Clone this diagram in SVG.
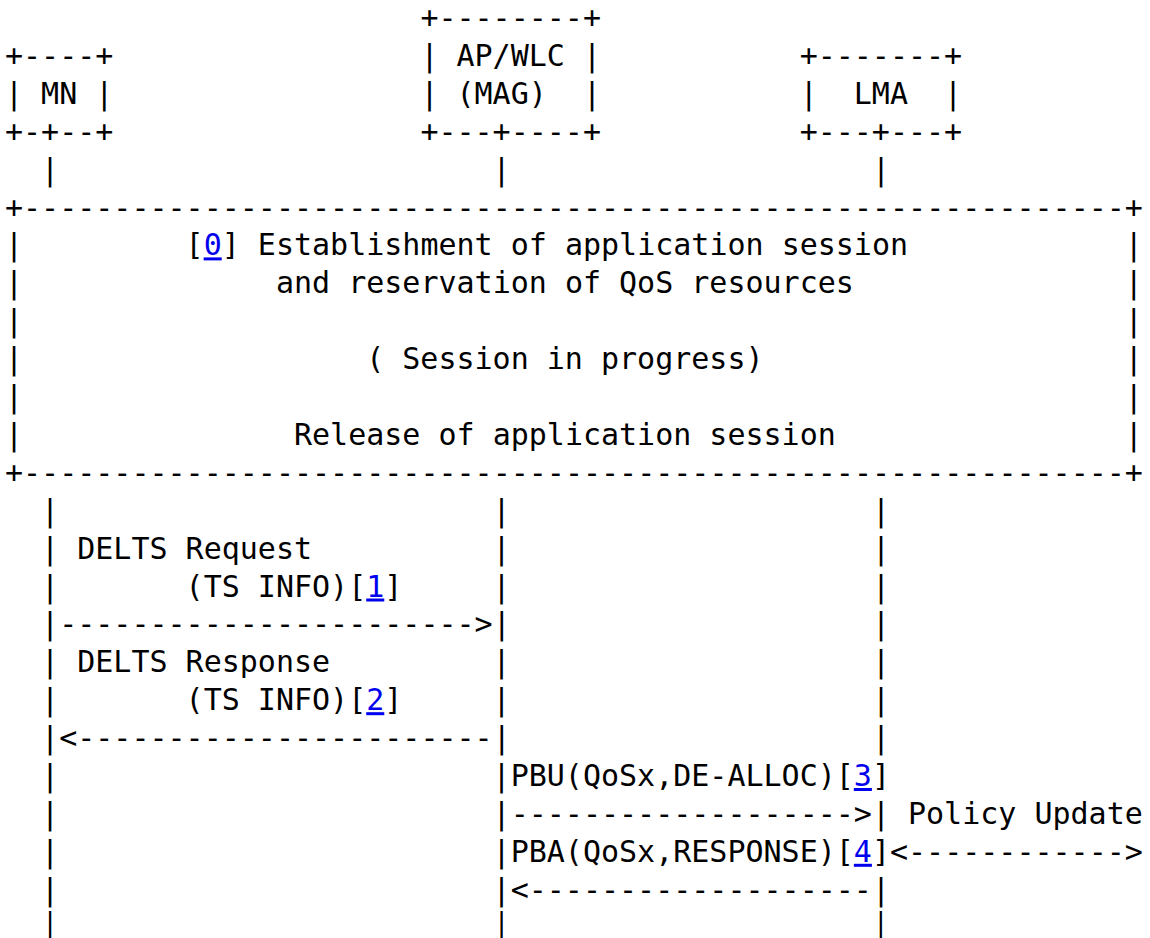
<svg xmlns="http://www.w3.org/2000/svg" width="1150" height="938" viewBox="0 0 1150 938">
  <style>
    text { font-family: "DejaVu Sans Mono", "Liberation Mono", monospace; font-size: 30px; fill: #000; white-space: pre; }
    .ref { fill: #0000ee; text-decoration: underline; }
    .tail { font-size: 26px; }
  </style>
  <rect width="1150" height="938" fill="#fff"/>
  <!-- character grid: column c at x = 5 + 18.06*c, row r baseline at y = 28 + 37.9*r -->

  <g id="mn">
    <text x="5" y="65.9">+----+</text>
    <text x="5" y="103.8">| MN |</text>
    <text x="5" y="141.7">+-+--+</text>
  </g>

  <g id="mag">
    <text x="420.38" y="28">+--------+</text>
    <text x="420.38" y="65.9">| AP/WLC |</text>
    <text x="420.38" y="103.8">| (MAG)  |</text>
    <text x="420.38" y="141.7">+---+----+</text>
  </g>

  <g id="lma">
    <text x="799.64" y="65.9">+-------+</text>
    <text x="799.64" y="103.8">|  LMA  |</text>
    <text x="799.64" y="141.7">+---+---+</text>
  </g>

  <g id="session">
    <text x="5" y="217.5">+-------------------------------------------------------------+</text>
    <text x="5" y="255.4">|</text><text x="1124.72" y="255.4">|</text>
    <text x="5" y="293.3">|</text><text x="1124.72" y="293.3">|</text>
    <text x="5" y="331.2">|</text><text x="1124.72" y="331.2">|</text>
    <text x="5" y="369.1">|</text><text x="1124.72" y="369.1">|</text>
    <text x="5" y="407">|</text><text x="1124.72" y="407">|</text>
    <text x="5" y="444.9">|</text><text x="1124.72" y="444.9">|</text>
    <text x="5" y="482.8">+-------------------------------------------------------------+</text>
    <text x="185.6" y="255.4">[<tspan class="ref">0</tspan>] Establishment of application session</text>
    <text x="275.9" y="293.3">and reservation of QoS resources</text>
    <text x="366.2" y="369.1">( Session in progress)</text>
    <text x="293.96" y="444.9">Release of application session</text>
  </g>

  <g id="connectors">
    <!-- lifelines between the nodes and the session box -->
    <text x="41.12" y="179.6">|</text><text x="492.62" y="179.6">|</text><text x="871.88" y="179.6">|</text>
    <text x="41.12" y="520.7">|</text><text x="492.62" y="520.7">|</text><text x="871.88" y="520.7">|</text>

    <!-- DELTS Request -->
    <text x="41.12" y="558.6">|</text><text x="77.24" y="558.6">DELTS Request</text><text x="492.62" y="558.6">|</text><text x="871.88" y="558.6">|</text>
    <text x="41.12" y="596.5">|</text><text x="185.6" y="596.5">(TS INFO)[<tspan class="ref">1</tspan>]</text><text x="492.62" y="596.5">|</text><text x="871.88" y="596.5">|</text>
    <text x="41.12" y="634.4">|-----------------------&gt;|</text><text x="871.88" y="634.4">|</text>

    <!-- DELTS Response -->
    <text x="41.12" y="672.3">|</text><text x="77.24" y="672.3">DELTS Response</text><text x="492.62" y="672.3">|</text><text x="871.88" y="672.3">|</text>
    <text x="41.12" y="710.2">|</text><text x="185.6" y="710.2">(TS INFO)[<tspan class="ref">2</tspan>]</text><text x="492.62" y="710.2">|</text><text x="871.88" y="710.2">|</text>
    <text x="41.12" y="748.1">|&lt;-----------------------|</text><text x="871.88" y="748.1">|</text>

    <!-- PBU / PBA exchange and policy update -->
    <text x="41.12" y="786">|</text><text x="492.62" y="786">|PBU(QoSx,DE-ALLOC)[<tspan class="ref">3</tspan>]</text>
    <text x="41.12" y="823.9">|</text><text x="492.62" y="823.9">|-------------------&gt;|</text><text x="908" y="823.9">Policy Update</text>
    <text x="41.12" y="861.8">|</text><text x="492.62" y="861.8">|PBA(QoSx,RESPONSE)[<tspan class="ref">4</tspan>]&lt;------------&gt;</text>
    <text x="41.12" y="899.7">|</text><text x="492.62" y="899.7">|&lt;-------------------|</text>
    <!-- last lifeline row: slightly smaller glyph so it ends at the bottom edge -->
    <text class="tail" x="42.32" y="931">|</text><text class="tail" x="493.82" y="931">|</text><text class="tail" x="873.08" y="931">|</text>
  </g>
</svg>
